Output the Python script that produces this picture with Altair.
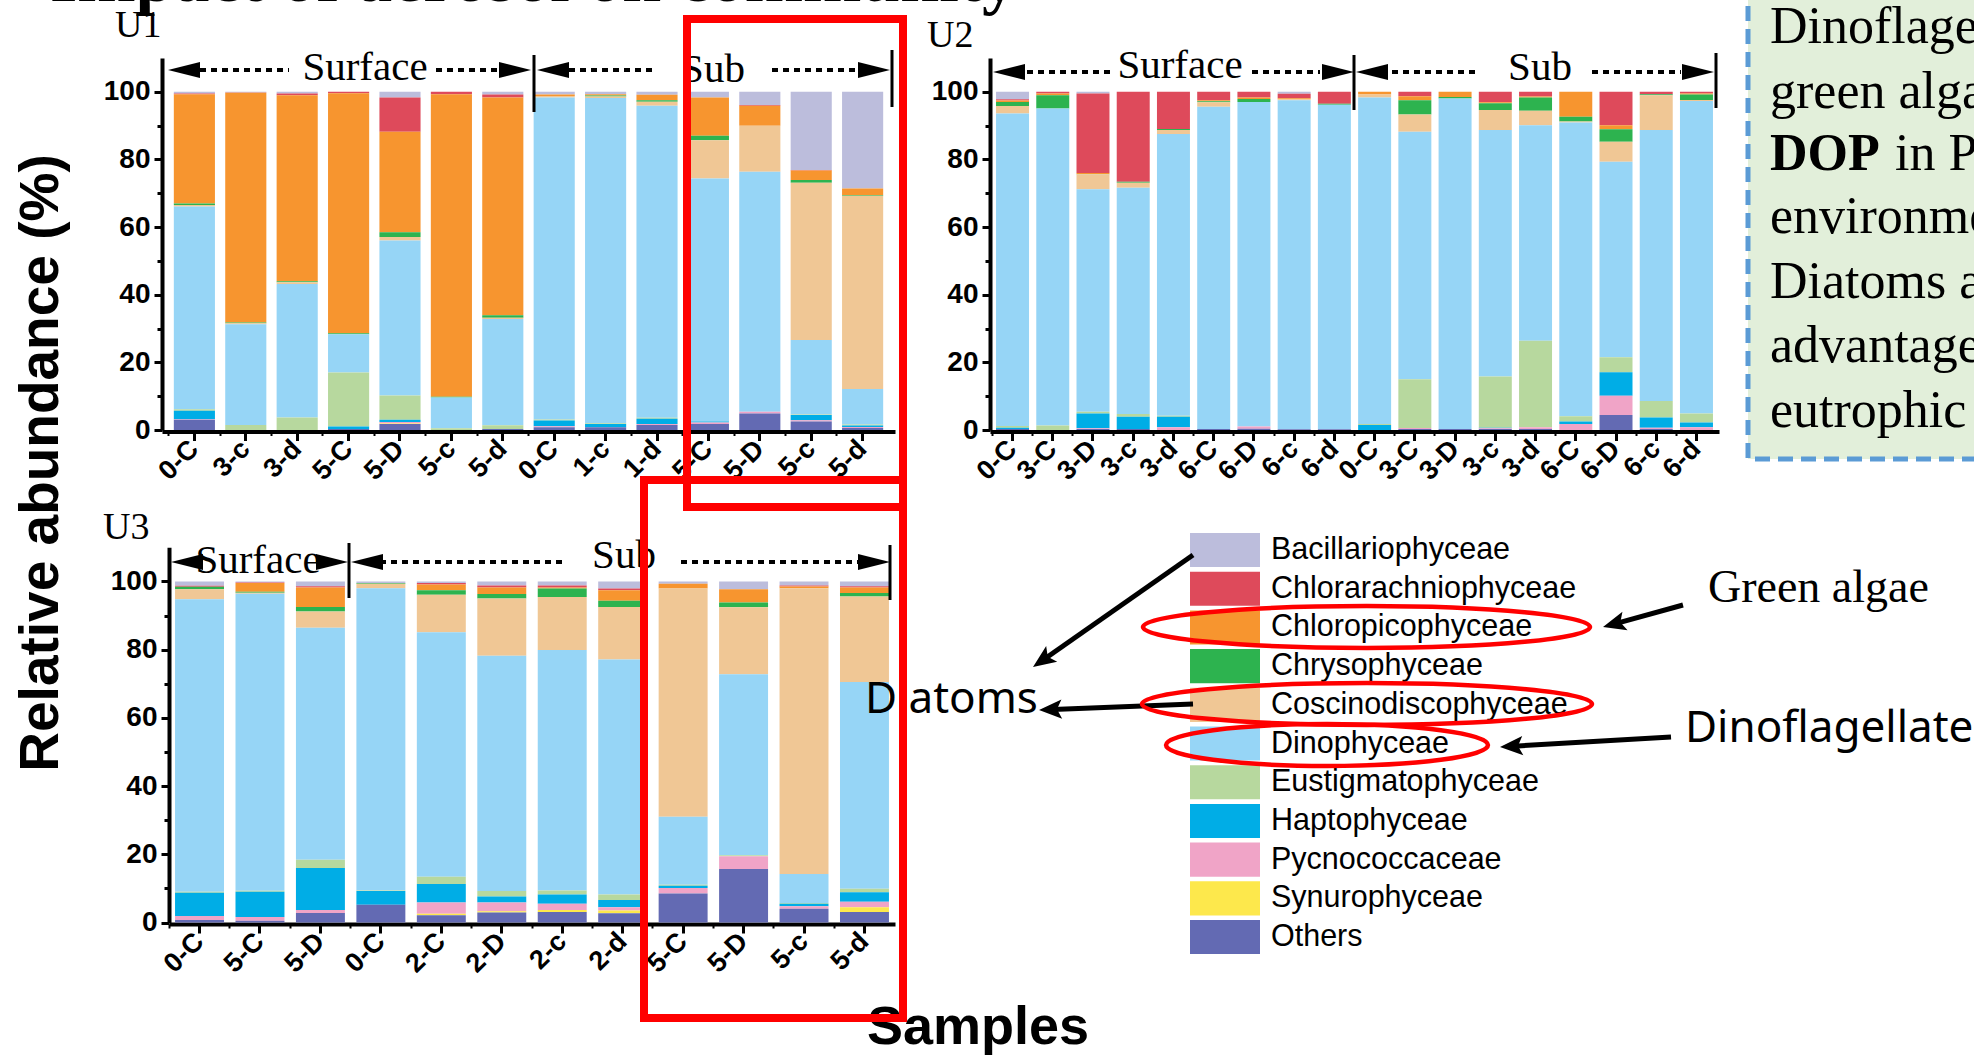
import math
import altair as alt
import pandas as pd

W, H = 1974, 1057

# ---------------- data ----------------
CATEGORIES = ["Bacillariophyceae", "Chlorarachniophyceae", "Chloropicophyceae",
              "Chrysophyceae", "Coscinodiscophyceae", "Dinophyceae",
              "Eustigmatophyceae", "Haptophyceae", "Pycnococcaceae",
              "Synurophyceae", "Others"]
COLORS = ["#BCBDDC", "#DE4A5B", "#F7952F", "#2DB34F", "#F0C795", "#96D5F6",
          "#B7D89E", "#00ADE6", "#F0A4C7", "#FDE84C", "#636AB3"]

U1_SAMPLES = ["0-C", "3-c", "3-d", "5-C", "5-D", "5-c", "5-d",
              "0-C", "1-c", "1-d", "5-C", "5-D", "5-c", "5-d"]
U1_VALUES = {
    "Others":               [3.0, 0, 0, 0.3, 1.8, 0, 0.3, 0.8, 0.8, 1.5, 1.8, 4.9, 2.5, 0.6],
    "Synurophyceae":        [0, 0, 0, 0, 0.1, 0, 0, 0, 0, 0, 0, 0, 0, 0],
    "Pycnococcaceae":       [0.2, 0, 0, 0, 0.5, 0, 0, 0.3, 0, 0.3, 0.4, 0.5, 0.4, 0.3],
    "Haptophyceae":         [2.5, 0, 0, 0.7, 0.6, 0, 0, 1.7, 1.0, 1.5, 0.3, 0, 1.5, 0.4],
    "Eustigmatophyceae":    [0.4, 1.5, 3.7, 16.0, 7.2, 0.5, 1.1, 0.3, 0.2, 0.3, 0, 0, 0.2, 0.3],
    "Dinophyceae":          [60.0, 29.8, 39.5, 11.3, 45.8, 9.1, 31.4, 95.2, 96.2, 92.3, 71.9, 71.0, 22.0, 10.5],
    "Coscinodiscophyceae":  [0.4, 0.3, 0.5, 0, 1.1, 0, 0.4, 0.5, 0.4, 1.2, 11.3, 13.6, 46.5, 57.2],
    "Chrysophyceae":        [0.5, 0.2, 0.3, 0.3, 1.4, 0.2, 0.7, 0, 0.3, 0.4, 1.3, 0, 0.8, 0.2],
    "Chloropicophyceae":    [32.3, 67.9, 55.0, 71.0, 29.7, 89.5, 64.4, 0.4, 0.4, 1.6, 11.3, 5.9, 2.8, 1.9],
    "Chlorarachniophyceae": [0.2, 0.1, 0.5, 0.4, 10.1, 0.7, 0.9, 0, 0, 0, 0, 0.2, 0.2, 0],
    "Bacillariophyceae":    [0.5, 0.2, 0.5, 0, 1.7, 0, 0.8, 0.8, 0.7, 0.9, 1.7, 3.9, 23.1, 28.6],
}

U2_SAMPLES = ["0-C", "3-C", "3-D", "3-c", "3-d", "6-C", "6-D", "6-c", "6-d",
              "0-C", "3-C", "3-D", "3-c", "3-d", "6-C", "6-D", "6-c", "6-d"]
U2_VALUES = {
    "Others":               [0.3, 0, 0.3, 0.3, 0, 0.3, 0.4, 0.2, 0.2, 0, 0.3, 0.3, 0.3, 0.3, 0, 4.4, 0.3, 0],
    "Synurophyceae":        [0] * 18,
    "Pycnococcaceae":       [0, 0, 0.2, 0, 0.8, 0, 0.6, 0, 0, 0, 0.3, 0, 0.2, 0.5, 1.8, 5.7, 0.4, 0.8],
    "Haptophyceae":         [0.4, 0, 4.4, 3.6, 3.1, 0, 0, 0, 0, 1.5, 0, 0, 0.2, 0, 0.7, 7.0, 3.0, 1.4],
    "Eustigmatophyceae":    [0.5, 1.3, 0.5, 0.8, 0.3, 0, 0, 0, 0, 0.3, 14.4, 0, 15.1, 25.6, 1.6, 4.4, 4.9, 2.7],
    "Dinophyceae":          [92.4, 93.8, 65.8, 66.9, 83.3, 95.3, 96.0, 97.3, 96.0, 96.5, 73.2, 97.7, 72.9, 63.7, 86.8, 57.8, 80.1, 92.4],
    "Coscinodiscophyceae":  [2.2, 0, 4.4, 1.5, 1.2, 1.3, 0, 0.3, 0, 0.9, 5.1, 0, 5.9, 4.3, 0.3, 5.9, 10.3, 0.3],
    "Chrysophyceae":        [1.2, 3.9, 0.1, 0.3, 0.3, 0.3, 0.9, 0, 0.3, 0, 4.2, 0.5, 2.0, 3.9, 1.4, 3.7, 0.3, 1.6],
    "Chloropicophyceae":    [0.4, 0.5, 0.3, 0, 0, 0.3, 0.4, 0.3, 0, 0.8, 1.2, 1.5, 0.3, 0.3, 7.4, 1.2, 0, 0.3],
    "Chlorarachniophyceae": [0.4, 0.5, 23.5, 26.6, 11.0, 2.5, 1.7, 1.3, 3.5, 0, 1.3, 0, 3.1, 1.4, 0, 9.9, 0.7, 0.5],
    "Bacillariophyceae":    [2.2, 0, 0.5, 0, 0, 0, 0, 0.6, 0, 0, 0, 0, 0, 0, 0, 0, 0, 0],
}

U3_SAMPLES = ["0-C", "5-C", "5-D", "0-C", "2-C", "2-D", "2-c", "2-d",
              "5-C", "5-D", "5-c", "5-d"]
U3_VALUES = {
    "Others":               [0.7, 0.5, 2.8, 5.2, 2.1, 2.9, 3.1, 2.7, 8.5, 15.7, 4.0, 3.1],
    "Synurophyceae":        [0, 0, 0, 0, 0.5, 0.4, 0.6, 0.8, 0, 0, 0, 1.4],
    "Pycnococcaceae":       [1.2, 1.1, 0.9, 0, 3.3, 2.6, 1.8, 1.0, 1.6, 3.7, 0.8, 1.6],
    "Haptophyceae":         [6.8, 7.4, 12.3, 4.0, 5.4, 1.7, 2.7, 2.1, 0.7, 0, 0.7, 2.8],
    "Eustigmatophyceae":    [0.3, 0.3, 2.4, 0.2, 2.1, 1.6, 1.2, 1.6, 0.3, 0.3, 0.2, 1.0],
    "Dinophyceae":          [85.8, 87.1, 68.0, 88.6, 71.7, 69.0, 70.5, 68.9, 19.9, 53.1, 8.5, 60.6],
    "Coscinodiscophyceae":  [2.9, 0.3, 4.8, 1.3, 11.0, 16.8, 15.5, 15.4, 66.9, 19.6, 83.8, 25.1],
    "Chrysophyceae":        [0.7, 0.3, 1.3, 0.2, 1.3, 1.3, 2.5, 1.8, 0, 1.4, 0, 1.0],
    "Chloropicophyceae":    [0, 2.5, 5.7, 0, 1.7, 1.9, 0.3, 3.1, 1.4, 3.9, 0.5, 1.6],
    "Chlorarachniophyceae": [0.3, 0.2, 0.4, 0, 0.4, 0.6, 0.6, 0.5, 0, 0, 0.3, 0.4],
    "Bacillariophyceae":    [1.3, 0.3, 1.4, 0.5, 0.5, 1.2, 1.2, 2.1, 0.7, 2.3, 1.2, 1.4],
}

Y_TICKS = [0, 20, 40, 60, 80, 100]
Y_MINOR = [10, 30, 50, 70, 90]

# ---------------- layout (pixels) ----------------
PANELS = [
    # samples, values, x-range, y0, ytop, paddingInner, paddingOuter
    (U1_SAMPLES, U1_VALUES, (162, 895), 430, 58, 0.20, 0.23),
    (U2_SAMPLES, U2_VALUES, (990, 1719), 430, 58, 0.18, 0.15),
    (U3_SAMPLES, U3_VALUES, (169, 895), 922.5, 547.3, 0.19, 0.10),
]

SANS = "Liberation Sans"
SERIF = "Liberation Serif"

color_scale = alt.Scale(domain=CATEGORIES, range=COLORS)


def long_df(samples, values):
    rows = []
    n = len(CATEGORIES)
    for i, s in enumerate(samples):
        key = f"{i:02d}|{s}"
        for j, c in enumerate(CATEGORIES):
            rows.append({"key": key, "cat": c, "value": values[c][i], "stack": n - 1 - j})
    return pd.DataFrame(rows)


def panel_layers(samples, values, xr, y0, ytop, pi, po):
    df = long_df(samples, values)
    keys = [f"{i:02d}|{s}" for i, s in enumerate(samples)]
    xs = alt.Scale(domain=keys, range=list(xr), paddingInner=pi, paddingOuter=po)
    ys = alt.Scale(domain=[0, 110], range=[y0, ytop], nice=False, zero=True)
    bars = alt.Chart(df).mark_bar(strokeWidth=0).encode(
        x=alt.X("key:N", sort=keys, scale=xs,
                axis=alt.Axis(orient="bottom", offset=(y0 + 1.5) - H, title=None,
                              labelExpr="split(datum.label, '|')[1]",
                              labelAngle=315, labelAlign="right", labelBaseline="middle",
                              labelFont=SANS, labelFontWeight="bold", labelFontSize=27,
                              labelColor="black", labelPadding=4, labelOverlap=False,
                              tickSize=9, tickWidth=3, tickColor="black",
                              domainWidth=4, domainColor="black", grid=False)),
        y=alt.Y("value:Q", stack="zero", scale=ys,
                axis=alt.Axis(orient="left", offset=-xr[0], title=None, values=Y_TICKS,
                              labelFont=SANS, labelFontWeight="bold", labelFontSize=28,
                              labelColor="black", labelPadding=4, labelOverlap=False,
                              labelFlush=False, tickSize=8, tickWidth=3, tickColor="black",
                              domainWidth=4, domainColor="black", grid=False)),
        color=alt.Color("cat:N", scale=color_scale, legend=None),
        order=alt.Order("stack:Q", sort="ascending"),
    )
    bp = -pi / (2 * (1 - pi))
    minor = alt.Chart(df).mark_bar(opacity=0).encode(
        x=alt.X("key:N", sort=keys, scale=xs,
                axis=alt.Axis(orient="bottom", offset=(y0 + 1.5) - H, title=None,
                              labels=False, domain=False, bandPosition=bp,
                              tickSize=4, tickWidth=2, tickColor="black", grid=False)),
        y=alt.Y("value:Q", stack=None, scale=ys,
                axis=alt.Axis(orient="left", offset=-xr[0], title=None, values=Y_MINOR,
                              labels=False, domain=False, tickSize=5, tickWidth=3,
                              tickColor="black", grid=False)),
    )
    return [bars, minor]


def px(field):
    return alt.X(f"{field}:Q", scale=alt.Scale(domain=[0, W], range=[0, W], nice=False, zero=False), axis=None)


def py(field):
    return alt.Y(f"{field}:Q", scale=alt.Scale(domain=[0, H], range=[0, H], nice=False, zero=False), axis=None)


def text_layer(rows, font, size, weight="normal", align="left", baseline="alphabetic", angle=0):
    df = pd.DataFrame(rows, columns=["x", "y", "t"])
    kw = dict(font=font, fontSize=size, fontWeight=weight, align=align,
              baseline=baseline, color="black")
    if angle:
        kw["angle"] = angle
    return alt.Chart(df).mark_text(**kw).encode(x=px("x"), y=py("y"), text="t:N")


layers = []

# ---- text box (top right) ----
BOX = pd.DataFrame([{"x": 1748, "y": -20, "x2": 2060, "y2": 459}])
layers.append(alt.Chart(BOX).mark_rect(fill="#E2EFDA", stroke="#5B9BD5", strokeWidth=5,
                                       strokeDash=[15, 8]).encode(
    x=px("x"), y=py("y"), x2="x2:Q", y2="y2:Q"))
BOX_LINES = [(1770, 43, "Dinoflagellates and"), (1770, 108, "green algae utilize"),
             (1770, 233, "environment;"), (1770, 298, "Diatoms are at an"),
             (1770, 362, "advantage in"), (1770, 427, "eutrophic water.")]
layers.append(text_layer(BOX_LINES, SERIF, 52))
layers.append(text_layer([(1770, 170, "DOP")], SERIF, 52, weight="bold"))
layers.append(text_layer([(1895, 170, "in P-limited")], SERIF, 52))

# ---- panels ----
for p in PANELS:
    layers.extend(panel_layers(*p))

# ---- Surface / Sub annotations ----
DOTTED = [(200, 289, 70), (436, 501, 70), (569, 654, 70), (772, 861, 70),
          (1027, 1110, 72), (1252, 1320, 72), (1392, 1475, 72), (1592, 1681, 72),
          (380, 566, 562), (681, 861, 562)]
dd = pd.DataFrame(DOTTED, columns=["x", "x2", "y"])
layers.append(alt.Chart(dd).mark_rule(color="black", strokeWidth=4, strokeDash=[6, 5]).encode(
    x=px("x"), x2="x2:Q", y=py("y")))

VLINES = [(534, 55, 112), (892, 50, 107), (1354, 55, 110), (1716, 53, 108),
          (349, 543, 598), (890, 545, 600)]
vd = pd.DataFrame(VLINES, columns=["x", "y", "y2"])
layers.append(alt.Chart(vd).mark_rule(color="black", strokeWidth=3).encode(
    x=px("x"), y=py("y"), y2="y2:Q"))

HEADS = [(168, 70, 270), (531, 70, 90), (537, 70, 270), (890, 70, 90),
         (993, 72, 270), (1354, 72, 90), (1356, 72, 270), (1714, 72, 90),
         (171, 562, 270), (348, 562, 90), (351, 562, 270), (890, 562, 90)]
hd = pd.DataFrame(HEADS, columns=["x", "y", "angle"])
layers.append(alt.Chart(hd).mark_point(shape="M0,0 L0.5,2 L-0.5,2 Z", size=1024, filled=True,
                                       color="black", opacity=1, strokeWidth=0).encode(
    x=px("x"), y=py("y"), angle=alt.Angle("angle:Q", scale=None)))

GROUP_TEXT = [(365, 80, "Surface"), (713, 82, "Sub"), (1180, 78, "Surface"),
              (1540, 80, "Sub"), (258, 573, "Surface"), (624, 568, "Sub")]
layers.append(text_layer(GROUP_TEXT, SERIF, 41, align="center"))

# ---- panel labels, title, axis titles ----
layers.append(text_layer([(115, 37, "U1"), (927, 47, "U2"), (103, 539, "U3")], SERIF, 38))
layers.append(text_layer([(50, 1, "Impact of aerosol on community")], SERIF, 70, weight="bold"))
layers.append(text_layer([(41, 463, "Relative abundance (%)")], SANS, 55, weight="bold",
                         align="center", baseline="middle", angle=270))
layers.append(text_layer([(978, 1044, "Samples")], SANS, 54, weight="bold", align="center"))

# ---- legend ----
leg = pd.DataFrame({"cat": CATEGORIES})
leg_y = alt.Scale(domain=CATEGORIES, range=[530.7, 956.4], paddingInner=0.12, paddingOuter=0.06)
layers.append(alt.Chart(leg).mark_rect().encode(
    x=alt.value(1190), x2=alt.value(1260),
    y=alt.Y("cat:N", sort=CATEGORIES, scale=leg_y, axis=None),
    color=alt.Color("cat:N", scale=color_scale, legend=None)))
layers.append(alt.Chart(leg).mark_text(font=SANS, fontSize=30.5, align="left", baseline="middle",
                                       color="black").encode(
    x=alt.value(1271),
    y=alt.Y("cat:N", sort=CATEGORIES, scale=leg_y, axis=None),
    text="cat:N"))

# ---- annotation texts ----
layers.append(text_layer([(1708, 602, "Green algae")], SERIF, 46))
layers.append(text_layer([(1685, 742, "Dinoflagellate"), (865, 713, "Diatoms")], "Noto Sans", 44))

# ---- arrows ----
ARROWS = [(1193, 555, 1033, 667), (1193, 704, 1039, 710),
          (1683, 605, 1603, 627), (1671, 737, 1500, 747)]
arows, hrows = [], []
for x1, y1, x2, y2 in ARROWS:
    dx, dy = x2 - x1, y2 - y1
    L = math.hypot(dx, dy)
    ux, uy = dx / L, dy / L
    arows.append({"x": x1, "y": y1, "x2": x2 - 14 * ux, "y2": y2 - 14 * uy})
    ang = math.degrees(math.atan2(dx, -dy)) % 360
    hrows.append({"x": x2, "y": y2, "angle": ang})
layers.append(alt.Chart(pd.DataFrame(arows)).mark_rule(color="black", strokeWidth=5).encode(
    x=px("x"), y=py("y"), x2="x2:Q", y2="y2:Q"))
layers.append(alt.Chart(pd.DataFrame(hrows)).mark_point(
    shape="M0,0 L0.8,1.9 L0,1.5 L-0.8,1.9 Z", size=576, filled=True, color="black",
    opacity=1, strokeWidth=0).encode(
    x=px("x"), y=py("y"), angle=alt.Angle("angle:Q", scale=None)))

# ---- red ellipses ----
ELLIPSES = [(1366.5, 627, 223.5, 21), (1367, 704, 225, 21), (1327, 745, 161, 21)]
k = 0.5523
erows = []
for cx, cy, rx, ry in ELLIPSES:
    r = ry / rx
    path = (f"M-1,0 C-1,{-r * k:.4f} {-k},{-r:.4f} 0,{-r:.4f} "
            f"C{k},{-r:.4f} 1,{-r * k:.4f} 1,0 "
            f"C1,{r * k:.4f} {k},{r:.4f} 0,{r:.4f} "
            f"C{-k},{r:.4f} -1,{r * k:.4f} -1,0 Z")
    erows.append({"x": cx, "y": cy, "shape": path, "size": (2 * rx) ** 2})
layers.append(alt.Chart(pd.DataFrame(erows)).mark_point(filled=False, color="#FF0000",
                                                         strokeWidth=4.5, opacity=1).encode(
    x=px("x"), y=py("y"),
    shape=alt.Shape("shape:N", scale=None),
    size=alt.Size("size:Q", scale=None)))

# ---- red boxes ----
RED = pd.DataFrame([(687, 19, 903, 507), (644, 480, 903, 1018)], columns=["x", "y", "x2", "y2"])
layers.append(alt.Chart(RED).mark_rect(fill="transparent", stroke="#FF0000", strokeWidth=8).encode(
    x=px("x"), y=py("y"), x2="x2:Q", y2="y2:Q"))

chart = alt.layer(*layers).resolve_scale(
    x="independent", y="independent", color="shared"
).properties(
    width=W, height=H, padding=0, background="white",
    autosize=alt.AutoSizeParams(type="none"),
).configure_view(stroke=None)

chart.save("out.html", embed_options={"renderer": "svg", "actions": False})
